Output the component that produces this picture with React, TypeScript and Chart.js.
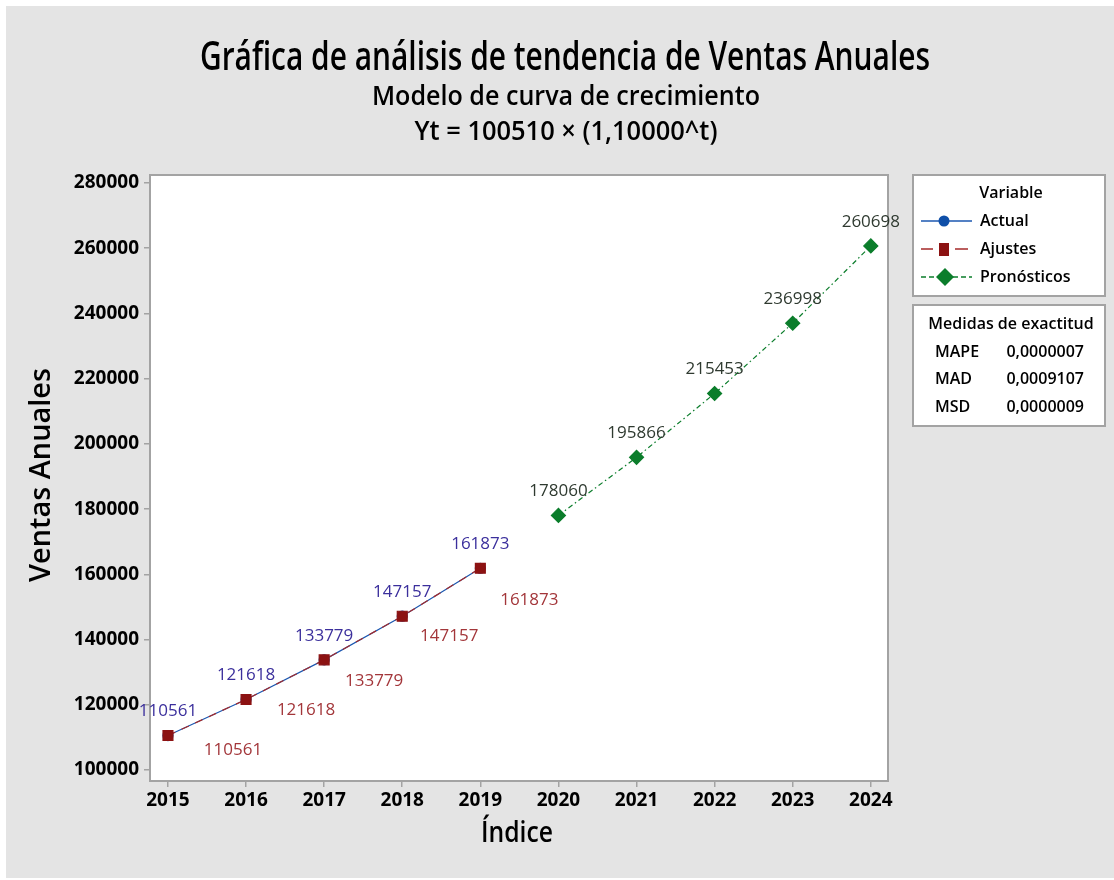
import React, { useEffect, useRef } from "react";
import { Chart, registerables } from "chart.js";

Chart.register(...registerables);

// ---- data ----
const yearTicks = [2015, 2016, 2017, 2018, 2019, 2020, 2021, 2022, 2023, 2024];
const actualYears = [2015, 2016, 2017, 2018, 2019];
const actualValues = [110561, 121618, 133779, 147157, 161873];
const fitValues = [110561, 121618, 133779, 147157, 161873];
const forecastYears = [2020, 2021, 2022, 2023, 2024];
const forecastValues = [178060, 195866, 215453, 236998, 260698];
const yTickValues = [100000, 120000, 140000, 160000, 180000, 200000, 220000, 240000, 260000, 280000];
const accuracyNames = ["MAPE", "MAD", "MSD"];
const accuracyValues = ["0,0000007", "0,0009107", "0,0000009"];

const titleText = "Gráfica de análisis de tendencia de Ventas Anuales";
const subtitleText = "Modelo de curva de crecimiento";
const formulaText = "Yt = 100510 × (1,10000^t)";

// label placement offsets (style, not data)
const fitLabelOffsets = [
  [65, 15],
  [60, 11],
  [50, 21],
  [47, 20],
  [49, 32],
];

// ---- styles ----
const BG = "#e4e4e4";
const FRAME = "#a3a3a3";
const BLUE = "#1b57b0";
const RED = "#8c1212";
const RED_LINE = "#a52a2a";
const GREEN = "#0b7d2b";
const BLUE_LABEL = "#3b2f9c";
const RED_LABEL = "#a3363a";
const GREEN_LABEL = "#2f3a30";
const FONT = "'Open Sans', 'DejaVu Sans', sans-serif";

function fitText(
  ctx: CanvasRenderingContext2D,
  text: string,
  x: number,
  y: number,
  font: string,
  targetW: number,
  align: CanvasTextAlign = "center",
  rotate = 0
) {
  ctx.save();
  ctx.font = font;
  const w = ctx.measureText(text).width;
  const s = targetW / w;
  ctx.translate(x, y);
  if (rotate) ctx.rotate(rotate);
  ctx.scale(s, 1);
  ctx.textAlign = align;
  ctx.fillText(text, 0, 0);
  ctx.restore();
}

const decor = {
  id: "decor",
  beforeDraw(chart: any) {
    const { ctx, width, height, chartArea: a } = chart;
    ctx.save();
    ctx.fillStyle = "#ffffff";
    ctx.fillRect(0, 0, width, height);
    ctx.fillStyle = BG;
    ctx.fillRect(6, 6, width - 6, height - 8);
    ctx.fillStyle = "#ffffff";
    ctx.fillRect(a.left, a.top, a.right - a.left, a.bottom - a.top);
    ctx.restore();
  },
  afterDatasetsDraw(chart: any) {
    const { ctx, chartArea: a } = chart;
    ctx.save();
    ctx.strokeStyle = FRAME;
    ctx.lineWidth = 2;
    ctx.strokeRect(a.left, a.top, a.right - a.left, a.bottom - a.top);

    ctx.font = `17px ${FONT}`;
    ctx.textAlign = "center";
    ctx.textBaseline = "middle";
    const mActual = chart.getDatasetMeta(0).data;
    const mFit = chart.getDatasetMeta(1).data;
    const mFc = chart.getDatasetMeta(2).data;
    ctx.fillStyle = BLUE_LABEL;
    mActual.forEach((p: any, i: number) => ctx.fillText(String(actualValues[i]), p.x, p.y - 24));
    ctx.fillStyle = RED_LABEL;
    mFit.forEach((p: any, i: number) =>
      ctx.fillText(String(fitValues[i]), p.x + fitLabelOffsets[i][0], p.y + fitLabelOffsets[i][1])
    );
    ctx.fillStyle = GREEN_LABEL;
    mFc.forEach((p: any, i: number) => ctx.fillText(String(forecastValues[i]), p.x, p.y - 24));
    ctx.restore();
  },
  afterDraw(chart: any) {
    const { ctx } = chart;
    ctx.save();
    ctx.fillStyle = "#000";
    ctx.textBaseline = "alphabetic";
    fitText(ctx, titleText, 565, 70, `600 39px ${FONT}`, 730);
    fitText(ctx, subtitleText, 566, 105, `600 27px ${FONT}`, 388);
    fitText(ctx, formulaText, 566, 140, `600 27px ${FONT}`, 303);
    // axis titles
    ctx.textBaseline = "middle";
    fitText(ctx, "Ventas Anuales", 42, 475, `600 28px ${FONT}`, 214, "center", -Math.PI / 2);
    fitText(ctx, "Índice", 517, 834, `600 28px ${FONT}`, 72);

    // legend boxes
    ctx.fillStyle = "#fff";
    ctx.strokeStyle = FRAME;
    ctx.lineWidth = 2;
    ctx.fillRect(913, 175, 192, 121);
    ctx.strokeRect(913, 175, 192, 121);
    ctx.fillRect(913, 305, 192, 121);
    ctx.strokeRect(913, 305, 192, 121);

    ctx.fillStyle = "#000";
    ctx.font = `600 16px ${FONT}`;
    ctx.textAlign = "center";
    ctx.fillText("Variable", 1011, 193);
    ctx.textAlign = "left";
    const labels = ["Actual", "Ajustes", "Pronósticos"];
    const rows = [221, 249, 277];
    labels.forEach((t, i) => ctx.fillText(t, 980, rows[i]));

    // Actual sample
    ctx.strokeStyle = BLUE;
    ctx.lineWidth = 1.3;
    ctx.beginPath();
    ctx.moveTo(921, 221);
    ctx.lineTo(972, 221);
    ctx.stroke();
    ctx.fillStyle = "#0f4fa8";
    ctx.beginPath();
    ctx.arc(944, 221, 5.5, 0, Math.PI * 2);
    ctx.fill();
    // Ajustes sample
    ctx.strokeStyle = RED_LINE;
    ctx.beginPath();
    ctx.moveTo(921, 249);
    ctx.lineTo(933, 249);
    ctx.moveTo(955, 249);
    ctx.lineTo(968, 249);
    ctx.stroke();
    ctx.fillStyle = RED;
    ctx.fillRect(939, 243, 10, 13);
    // Pronosticos sample
    ctx.strokeStyle = GREEN;
    ctx.setLineDash([5, 3]);
    ctx.beginPath();
    ctx.moveTo(921, 277);
    ctx.lineTo(972, 277);
    ctx.stroke();
    ctx.setLineDash([]);
    ctx.fillStyle = GREEN;
    ctx.beginPath();
    ctx.moveTo(945, 268);
    ctx.lineTo(954, 277);
    ctx.lineTo(945, 286);
    ctx.lineTo(936, 277);
    ctx.closePath();
    ctx.fill();

    // accuracy box
    ctx.fillStyle = "#000";
    ctx.font = `600 16px ${FONT}`;
    ctx.textAlign = "center";
    ctx.fillText("Medidas de exactitud", 1011, 324);
    const accRows = [352, 379, 407];
    accuracyNames.forEach((n, i) => {
      ctx.textAlign = "left";
      ctx.fillText(n, 935, accRows[i]);
      ctx.textAlign = "right";
      ctx.fillText(accuracyValues[i], 1084, accRows[i]);
    });
    ctx.restore();
  },
};

export default function App() {
  const ref = useRef<HTMLCanvasElement>(null);
  useEffect(() => {
    document.body.style.margin = "0";
    const canvas = ref.current!;
    const chart = new Chart(canvas, {
      type: "line",
      data: {
        datasets: [
          {
            label: "Actual",
            data: actualYears.map((x, i) => ({ x, y: actualValues[i] })),
            borderColor: BLUE,
            backgroundColor: "#0f4fa8",
            pointBackgroundColor: "#0f4fa8",
            pointBorderColor: "#0f4fa8",
            borderWidth: 1.2,
            pointStyle: "circle",
            pointRadius: 5,
            order: 2,
          },
          {
            label: "Ajustes",
            data: actualYears.map((x, i) => ({ x, y: fitValues[i] })),
            borderColor: RED_LINE,
            borderDash: [8, 7],
            borderWidth: 1.2,
            pointBackgroundColor: RED,
            pointBorderColor: RED,
            pointStyle: "rect",
            pointRadius: 7,
            order: 1,
          },
          {
            label: "Pronósticos",
            data: forecastYears.map((x, i) => ({ x, y: forecastValues[i] })),
            borderColor: GREEN,
            borderDash: [5, 3, 1.5, 3],
            borderWidth: 1.2,
            pointBackgroundColor: GREEN,
            pointBorderColor: GREEN,
            pointStyle: "rectRot",
            pointRadius: 7,
            order: 0,
          },
        ],
      },
      options: {
        animation: false,
        responsive: false,
        devicePixelRatio: 1,
        layout: { padding: { top: 175, right: 226, left: 0, bottom: 0 } },
        plugins: { legend: { display: false }, tooltip: { enabled: false }, title: { display: false } },
        scales: {
          x: {
            type: "linear",
            min: 2014.77,
            max: 2024.22,
            afterBuildTicks: (s: any) => {
              s.ticks = yearTicks.map((v) => ({ value: v }));
            },
            afterFit: (s: any) => {
              s.height = 99;
            },
            ticks: {
              autoSkip: false,
              maxRotation: 0,
              padding: 2,
              color: "#000",
              font: { family: FONT, weight: "bold", size: 19 },
              callback: (v: any) => String(v),
            },
            grid: { drawOnChartArea: false, tickLength: 6, color: FRAME, lineWidth: 1.5 },
            border: { display: false },
          },
          y: {
            type: "linear",
            min: 96630,
            max: 282450,
            afterBuildTicks: (s: any) => {
              s.ticks = yTickValues.map((v) => ({ value: v }));
            },
            afterFit: (s: any) => {
              s.width = 150;
            },
            ticks: {
              autoSkip: false,
              padding: 5,
              color: "#000",
              font: { family: FONT, weight: "bold", size: 19 },
              callback: (v: any) => String(v),
            },
            grid: { drawOnChartArea: false, tickLength: 6, color: FRAME, lineWidth: 1.5 },
            border: { display: false },
          },
        },
      },
      plugins: [decor],
    } as any);
    return () => chart.destroy();
  }, []);
  return <canvas ref={ref} width={1114} height={880} style={{ display: "block" }} />;
}
